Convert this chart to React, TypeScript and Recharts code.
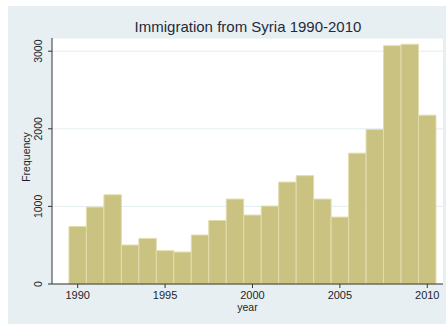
import React from 'react';
import { BarChart, Bar, XAxis, YAxis, CartesianGrid } from 'recharts';

const years = [1990, 1991, 1992, 1993, 1994, 1995, 1996, 1997, 1998, 1999, 2000, 2001, 2002, 2003, 2004, 2005, 2006, 2007, 2008, 2009, 2010];
const frequency = [741, 991, 1149, 502, 587, 429, 412, 631, 819, 1094, 888, 1004, 1313, 1396, 1094, 862, 1686, 1990, 3071, 3089, 2175];
const xTicks = [1990, 1995, 2000, 2005, 2010];
const yTicks = [0, 1000, 2000, 3000];

const data = years.map((y, i) => ({ year: y, freq: frequency[i] }));

const FONT = 'Liberation Sans, Arial, sans-serif';

const YTick = (props: any) => {
  const { x, y, payload } = props;
  return (
    <text
      x={0}
      y={0}
      transform={`translate(${x - 4.5},${y}) rotate(-90)`}
      textAnchor="middle"
      fontSize={10.5}
      fill="#1a1f2b"
      fontFamily={FONT}
    >
      {payload.value}
    </text>
  );
};

const YLabel = (props: any) => {
  const { viewBox } = props;
  const cx = viewBox.x + 21.5;
  const cy = viewBox.y + viewBox.height / 2 - 4;
  return (
    <text
      x={0}
      y={0}
      transform={`translate(${cx},${cy}) rotate(-90)`}
      textAnchor="middle"
      fontSize={10.5}
      fill="#1a1f2b"
      fontFamily={FONT}
    >
      Frequency
    </text>
  );
};

export default function App() {
  return (
    <div style={{ position: 'absolute', left: 8, top: 6, width: 438, height: 318, background: '#e8eff2' }}>
      <div
        style={{
          position: 'absolute',
          left: 0,
          width: 480,
          top: 12,
          textAlign: 'center',
          fontFamily: FONT,
          fontSize: 15,
          color: '#1e2b3a',
          lineHeight: '18px',
        }}
      >
        Immigration from Syria 1990-2010
      </div>
      <BarChart
        width={438}
        height={318}
        data={data}
        margin={{ top: 32, right: 3, left: 0, bottom: 0 }}
        barCategoryGap={0}
      >
        <CartesianGrid vertical={false} stroke="#e4edf0" fill="#ffffff" />
        <XAxis
          dataKey="year"
          type="number"
          domain={[1988.53, 2010.9]}
          allowDataOverflow
          ticks={xTicks}
          height={40}
          stroke="#333"
          tickSize={4}
          tick={{ fontSize: 11, fill: '#1a1f2b', fontFamily: FONT, dy: 1 }}
          label={{ value: 'year', position: 'insideTop', offset: 20, fontSize: 10.5, fill: '#1a1f2b', fontFamily: FONT }}
        />
        <YAxis
          domain={[0, 3170]}
          ticks={yTicks}
          width={44}
          stroke="#333"
          tickSize={4}
          tick={<YTick />}
          label={<YLabel />}
        />
        <Bar dataKey="freq" fill="#c9c280" stroke="#e2dcae" strokeWidth={1} barSize={17.45} isAnimationActive={false} />
      </BarChart>
    </div>
  );
}
